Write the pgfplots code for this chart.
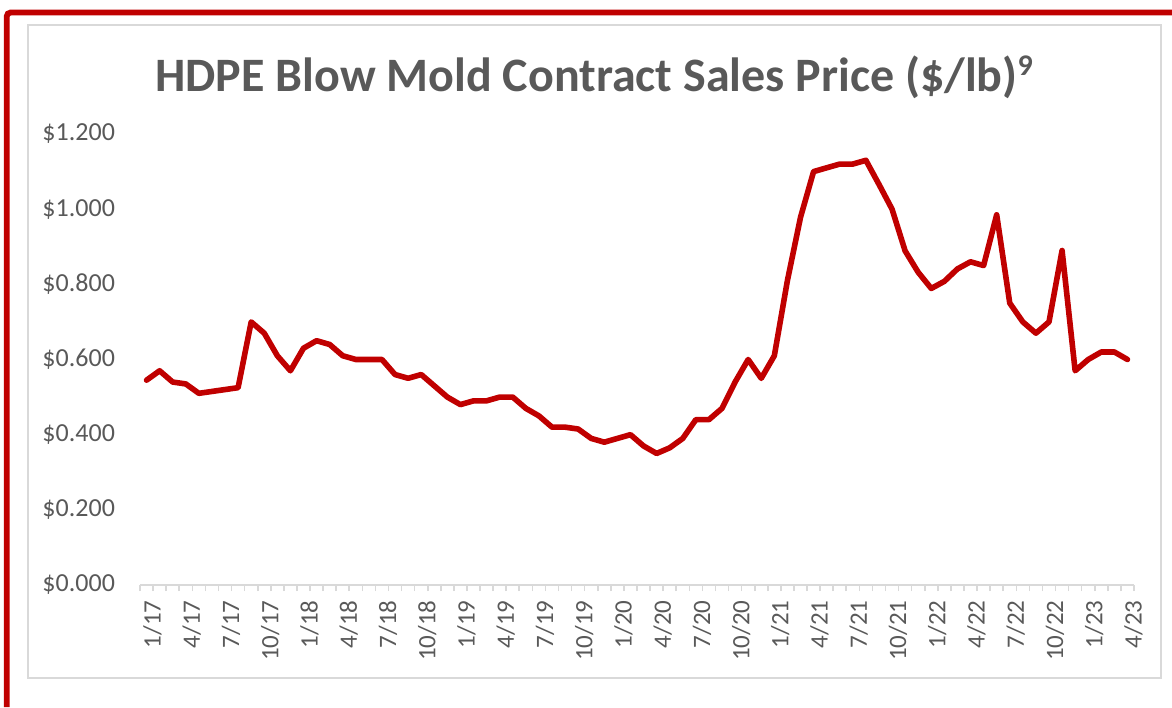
\documentclass[border=0pt]{standalone}
\usepackage{fontspec}
\setmainfont{Carlito}
\usepackage{pgfplots}
\pgfplotsset{compat=1.18}
\definecolor{lnred}{HTML}{C00000}
\definecolor{txtgray}{HTML}{595959}
\definecolor{gridgray}{HTML}{D9D9D9}
\begin{document}
\begin{tikzpicture}
\useasboundingbox (0pt,0pt) rectangle (586pt,353.5pt);
% outer red frame (top and left edges)
\draw[lnred, line width=2.9pt, rounded corners=2pt] (3.35pt,0pt) -- (3.35pt,347.25pt) -- (586pt,347.25pt);
% chart area border
\draw[gridgray, line width=0.8pt] (14pt,14.5pt) rectangle (580.5pt,341pt);
% title
\node[font=\bfseries\fontsize{24}{28}\selectfont, text=txtgray] at (297pt,315pt) {HDPE Blow Mold Contract Sales Price (\$/lb)\raisebox{8pt}{\fontsize{15}{17}\selectfont 9}};
\begin{axis}[
  at={(70pt,61pt)}, anchor=south west,
  scale only axis, width=497pt, height=225.5pt,
  xmin=-0.5, xmax=75.5, ymin=0, ymax=1.2,
  axis y line=none, axis x line*=bottom,
  x axis line style={gridgray, line width=0.8pt, -},
  xtick={0,3,...,75},
  xticklabels={1/17,4/17,7/17,10/17,1/18,4/18,7/18,10/18,1/19,4/19,7/19,10/19,1/20,4/20,7/20,10/20,1/21,4/21,7/21,10/21,1/22,4/22,7/22,10/22,1/23,4/23},
  major x tick style={draw=none},
  minor xtick={-0.5,0.5,...,75.5},
  minor x tick style={gridgray, line width=0.8pt},
  tick align=outside, minor tick length=3pt,
  xticklabel style={rotate=90, anchor=east, font=\fontsize{12.5}{14}\selectfont, text=txtgray, xshift=0pt, yshift=-3pt},
  ytick={0,0.2,0.4,0.6,0.8,1.0,1.2},
  yticklabels={\$0.000,\$0.200,\$0.400,\$0.600,\$0.800,\$1.000,\$1.200},
  ymajorgrids, y grid style={gridgray, line width=0.8pt},
  /pgf/number format/assume math mode=true,
  clip=false,
]
\addplot[lnred, line width=2.8pt, line join=round, line cap=round] table {
x y
0 0.545
1 0.570
2 0.540
3 0.535
4 0.510
5 0.515
6 0.520
7 0.525
8 0.700
9 0.670
10 0.610
11 0.570
12 0.630
13 0.650
14 0.640
15 0.610
16 0.600
17 0.600
18 0.600
19 0.560
20 0.550
21 0.560
22 0.530
23 0.500
24 0.480
25 0.490
26 0.490
27 0.500
28 0.500
29 0.470
30 0.450
31 0.420
32 0.420
33 0.415
34 0.390
35 0.380
36 0.390
37 0.400
38 0.370
39 0.350
40 0.365
41 0.390
42 0.440
43 0.440
44 0.470
45 0.540
46 0.600
47 0.550
48 0.610
49 0.810
50 0.978
51 1.100
52 1.110
53 1.120
54 1.120
55 1.130
56 1.066
57 1.000
58 0.889
59 0.832
60 0.789
61 0.808
62 0.841
63 0.860
64 0.850
65 0.985
66 0.750
67 0.700
68 0.670
69 0.700
70 0.890
71 0.570
72 0.600
73 0.620
74 0.620
75 0.600
};
\end{axis}
\begin{axis}[
  at={(70pt,61pt)}, anchor=south west,
  scale only axis, width=497pt, height=225.5pt,
  xmin=-0.5, xmax=75.5, ymin=0, ymax=1.2,
  hide x axis, axis y line*=left, y axis line style={draw=none},
  ytick={0,0.2,0.4,0.6,0.8,1.0,1.2},
  yticklabels={\$0.000,\$0.200,\$0.400,\$0.600,\$0.800,\$1.000,\$1.200},
  major y tick style={draw=none},
  yticklabel style={anchor=east, font=\fontsize{13}{15}\selectfont, text=txtgray, xshift=-9pt},
]
\end{axis}
\end{tikzpicture}
\end{document}
